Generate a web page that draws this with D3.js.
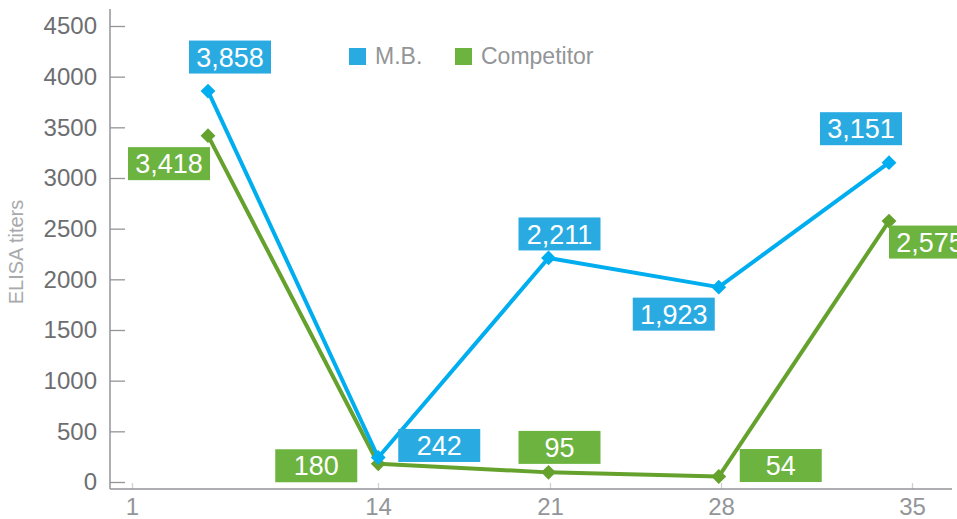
<!DOCTYPE html>
<html>
<head>
<meta charset="utf-8">
<script src="https://cdn.jsdelivr.net/npm/d3@7"></script>
<style>
  body { margin: 0; background: #fff; }
  svg { display: block; font-family: "Liberation Sans", Arial, sans-serif; }
</style>
</head>
<body>
<svg id="chart" width="957" height="519"></svg>
<script>
// data
const days = [1, 14, 21, 28, 35];
const mb = [3858, 242, 2211, 1923, 3151];
const competitor = [3418, 180, 95, 54, 2575];
const yTicks = [0, 500, 1000, 1500, 2000, 2500, 3000, 3500, 4000, 4500];

// label box offsets from their point (dx, dy)
const mbLabelOffsets = [[22, -34], [61, -12], [11, -24], [-45, 27], [-28, -34]];
const compLabelOffsets = [[-39, 28], [-62, 2], [11, -25], [62, -11], [41, 21]];

const series = [
    { name: 'Competitor', values: competitor, line: '#65a12d', box: '#6db33f', offsets: compLabelOffsets },
    { name: 'M.B.', values: mb, line: '#00aeef', box: '#29abe2', offsets: mbLabelOffsets }
];

let svg = d3.select('#chart');

let axisX = 110, axisBottom = 489, axisTop = 9, axisRight = 952;

let y = d3.scaleLinear().domain([0, 4500]).range([482, 26]);
// points sit on an even grid, the day ticks under them don't quite line up
let x = d3.scalePoint().domain(days).range([208, 889]);
let xTick = d3.scaleLinear().domain(days).range([132, 378, 550, 721, 912]);

// y axis
let gy = svg.append('g')
    .attr('transform', `translate(${axisX},0)`)
    .call(d3.axisLeft(y).tickValues(yTicks).tickFormat(d3.format('d')).tickSizeInner(-15).tickSizeOuter(0).tickPadding(13));
gy.select('.domain').remove();
gy.selectAll('.tick line').attr('stroke', '#939598').attr('stroke-width', 1.3);
gy.selectAll('.tick text')
    .attr('fill', '#6d6e71')
    .style('font-size', '24px')
    .style('font-family', '"Liberation Sans", Arial, sans-serif');

// x axis
let gx = svg.append('g')
    .attr('transform', `translate(0,${axisBottom})`)
    .call(d3.axisBottom(xTick).tickValues(days).tickFormat(d3.format('d')).tickSizeInner(-6).tickSizeOuter(0).tickPadding(9));
gx.select('.domain').remove();
gx.selectAll('.tick line').attr('stroke', '#cfd0d2').attr('stroke-width', 1.3);
gx.selectAll('.tick text')
    .attr('fill', '#939598')
    .style('font-size', '24px')
    .style('font-family', '"Liberation Sans", Arial, sans-serif');

svg.append('line')
    .attr('x1', axisX).attr('x2', axisX)
    .attr('y1', axisTop).attr('y2', axisBottom)
    .attr('stroke', '#939598').attr('stroke-width', 1.5);
svg.append('line')
    .attr('x1', axisX).attr('x2', axisRight)
    .attr('y1', axisBottom).attr('y2', axisBottom)
    .attr('stroke', '#939598').attr('stroke-width', 1.5);

// axis title
svg.append('text')
    .attr('transform', 'translate(23,252) rotate(-90)')
    .attr('text-anchor', 'middle')
    .attr('fill', '#a7a9ac')
    .style('font-size', '20px')
    .text('ELISA titers');

// lines and markers
let line = d3.line()
    .x((d, i) => x(days[i]))
    .y((d) => y(d));

series.forEach((s) => {
    svg.append('path')
        .datum(s.values)
        .attr('d', line)
        .attr('fill', 'none')
        .attr('stroke', s.line)
        .attr('stroke-width', 4)
        .attr('stroke-linejoin', 'round');

    svg.append('g').selectAll('path')
        .data(s.values)
        .join('path')
        .attr('d', d3.symbol(d3.symbolSquare, 110)())
        .attr('transform', (d, i) => `translate(${x(days[i])},${y(d)}) rotate(45)`)
        .attr('fill', s.line);
});

// value labels
const fmt = d3.format(',');
series.forEach((s) => {
    let g = svg.append('g').selectAll('g')
        .data(s.values)
        .join('g')
        .attr('transform', (d, i) => `translate(${x(days[i]) + s.offsets[i][0]},${y(d) + s.offsets[i][1]})`);
    g.append('rect')
        .attr('x', -41).attr('y', -16.5)
        .attr('width', 82).attr('height', 33)
        .attr('fill', s.box);
    g.append('text')
        .attr('text-anchor', 'middle')
        .attr('dy', '0.36em')
        .attr('fill', '#fff')
        .style('font-size', '27px')
        .text((d) => fmt(d));
});

// legend
let legend = svg.append('g').attr('transform', 'translate(349,48)');
let legendItems = [series[1], series[0]];
let item = legend.selectAll('g')
    .data(legendItems)
    .join('g')
    .attr('transform', (d, i) => `translate(${i * 106},0)`);
item.append('rect')
    .attr('width', 17).attr('height', 17)
    .attr('fill', (d) => d.box);
item.append('text')
    .attr('x', 26).attr('y', 16)
    .attr('fill', '#939598')
    .style('font-size', '23px')
    .text((d) => d.name);
</script>
</body>
</html>
